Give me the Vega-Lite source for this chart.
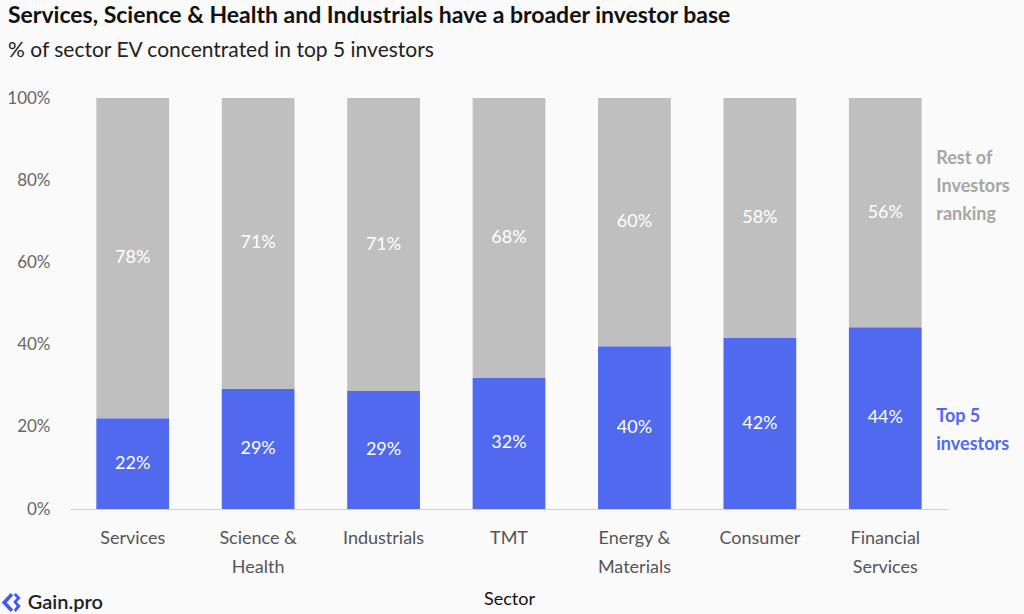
{
  "$schema": "https://vega.github.io/schema/vega-lite/v6.json",
  "width": 878,
  "height": 411,
  "autosize": {"type": "none"},
  "padding": {"left": 70, "top": 98, "right": 76, "bottom": 105},
  "background": "#FAFAFA",
  "title": {
    "text": "Services, Science & Health and Industrials have a broader investor base",
    "subtitle": "% of sector EV concentrated in top 5 investors",
    "anchor": "start",
    "frame": "group",
    "dx": -62,
    "offset": 28,
    "font": "Lato",
    "fontSize": 23,
    "fontWeight": "bold",
    "color": "#111111",
    "subtitleFont": "Lato",
    "subtitleFontSize": 21,
    "subtitleColor": "#222222",
    "subtitlePadding": 12
  },
  "config": {"view": {"stroke": null}, "font": "Lato"},
  "data": {
    "values": [
      {"sector": "Services", "group": "Top 5 investors", "value": 0.221},
      {"sector": "Services", "group": "Rest of Investors ranking", "value": 0.779},
      {"sector": "Science & Health", "group": "Top 5 investors", "value": 0.292},
      {"sector": "Science & Health", "group": "Rest of Investors ranking", "value": 0.708},
      {"sector": "Industrials", "group": "Top 5 investors", "value": 0.287},
      {"sector": "Industrials", "group": "Rest of Investors ranking", "value": 0.713},
      {"sector": "TMT", "group": "Top 5 investors", "value": 0.319},
      {"sector": "TMT", "group": "Rest of Investors ranking", "value": 0.681},
      {"sector": "Energy & Materials", "group": "Top 5 investors", "value": 0.396},
      {"sector": "Energy & Materials", "group": "Rest of Investors ranking", "value": 0.604},
      {"sector": "Consumer", "group": "Top 5 investors", "value": 0.416},
      {"sector": "Consumer", "group": "Rest of Investors ranking", "value": 0.584},
      {"sector": "Financial Services", "group": "Top 5 investors", "value": 0.442},
      {"sector": "Financial Services", "group": "Rest of Investors ranking", "value": 0.558}
    ]
  },
  "encoding": {
    "x": {
      "field": "sector",
      "type": "nominal",
      "sort": null,
      "scale": {"paddingInner": 0.42, "paddingOuter": 0.21},
      "axis": {
        "title": "Sector",
        "titleFont": "Lato",
        "titleFontSize": 18,
        "titleFontWeight": "normal",
        "titleColor": "#111111",
        "titlePadding": 14,
        "labelAngle": 0,
        "labelFont": "Lato",
        "labelFontSize": 18,
        "labelColor": "#555555",
        "labelPadding": 20,
        "labelLineHeight": 29,
        "ticks": false,
        "domain": true,
        "domainColor": "#D0D0D0",
        "labelExpr": "datum.label == 'Science & Health' ? ['Science &', 'Health'] : datum.label == 'Energy & Materials' ? ['Energy &', 'Materials'] : datum.label == 'Financial Services' ? ['Financial', 'Services'] : datum.label"
      }
    }
  },
  "layer": [
    {
      "mark": {"type": "bar"},
      "encoding": {
        "y": {
          "field": "value",
          "type": "quantitative",
          "stack": "zero",
          "scale": {"domain": [0, 1]},
          "axis": {
            "title": null,
            "format": ".0%",
            "values": [0, 0.2, 0.4, 0.6, 0.8, 1],
            "grid": false,
            "domain": false,
            "ticks": false,
            "labelPadding": 20,
            "labelFont": "Lato",
            "labelFontSize": 17,
            "labelColor": "#666666"
          }
        },
        "color": {
          "field": "group",
          "type": "nominal",
          "scale": {"domain": ["Top 5 investors", "Rest of Investors ranking"], "range": ["#5069EE", "#BFBFBF"]},
          "legend": null
        },
        "order": {"field": "group", "sort": "descending"}
      }
    },
    {
      "transform": [
        {"stack": "value", "groupby": ["sector"], "sort": [{"field": "group", "order": "descending"}], "as": ["v0", "v1"]},
        {"fold": ["v0", "v1"], "as": ["edge", "pos"]}
      ],
      "mark": {"type": "text", "color": "#FFFFFF", "font": "Lato", "fontSize": 18, "baseline": "middle"},
      "encoding": {
        "y": {"aggregate": "mean", "field": "pos", "type": "quantitative", "stack": null},
        "text": {"field": "value", "type": "quantitative", "format": ".0%"},
        "detail": {"field": "group"}
      }
    },
    {
      "transform": [
        {"stack": "value", "groupby": ["sector"], "sort": [{"field": "group", "order": "descending"}], "as": ["v0", "v1"]},
        {"fold": ["v0", "v1"], "as": ["edge", "pos"]},
        {"filter": "datum.sector == 'Financial Services' && datum.group == 'Rest of Investors ranking'"}
      ],
      "mark": {"type": "text", "color": "#A6A6A6", "font": "Lato", "fontSize": 18, "fontWeight": "bold", "align": "left", "baseline": "middle", "dx": 51, "dy": -54, "lineHeight": 28},
      "encoding": {
        "y": {"aggregate": "mean", "field": "pos", "type": "quantitative", "stack": null},
        "text": {"value": ["Rest of", "Investors", "ranking"]}
      }
    },
    {
      "transform": [
        {"stack": "value", "groupby": ["sector"], "sort": [{"field": "group", "order": "descending"}], "as": ["v0", "v1"]},
        {"fold": ["v0", "v1"], "as": ["edge", "pos"]},
        {"filter": "datum.sector == 'Financial Services' && datum.group == 'Top 5 investors'"}
      ],
      "mark": {"type": "text", "color": "#5069EE", "font": "Lato", "fontSize": 18, "fontWeight": "bold", "align": "left", "baseline": "middle", "dx": 51, "dy": -1, "lineHeight": 28},
      "encoding": {
        "y": {"aggregate": "mean", "field": "pos", "type": "quantitative", "stack": null},
        "text": {"value": ["Top 5", "investors"]}
      }
    },
    {
      "data": {"values": [{"logo": "Gain.pro"}]},
      "mark": {"type": "text", "color": "#1E1E28", "font": "Lato", "fontSize": 20, "fontWeight": 600, "align": "left", "baseline": "middle", "dx": -105},
      "encoding": {
        "x": {"datum": "Services"},
        "y": {"datum": -0.229, "type": "quantitative"},
        "text": {"field": "logo"}
      }
    },
    {
      "data": {"values": [{"logo": "Gain.pro"}]},
      "mark": {"type": "point", "filled": true, "color": "#3D5BF0", "opacity": 1, "size": 400,
        "shape": "M-12.2,-1 L-13.1,-0.05 L-12.2,0.9 L-11.95,0.65 L-12.6,-0.05 L-11.95,-0.75 Z M-11.7,-1 L-11.2,-0.5 L-11.6,-0.1 L-11.2,0.3 L-11.7,0.9 L-11.9,0.7 L-11.6,0.3 L-11.95,-0.1 L-11.6,-0.5 L-11.9,-0.8 Z"},
      "encoding": {
        "x": {"datum": "Services"},
        "y": {"datum": -0.229, "type": "quantitative"}
      }
    }
  ]
}
